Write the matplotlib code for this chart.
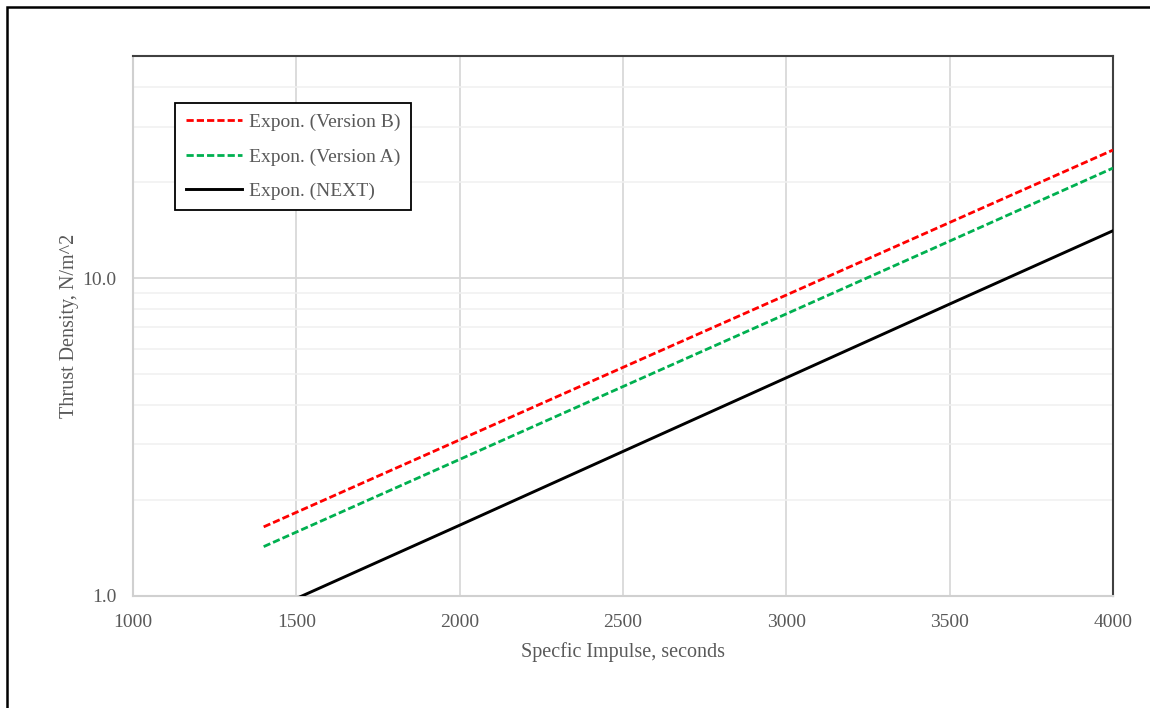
import matplotlib.pyplot as plt
from matplotlib.patches import Rectangle

plt.rcParams.update({
    'font.family': ['Liberation Serif', 'DejaVu Serif'],
})

# values (trendlines, log y)
ISP = [1400, 2000, 2500, 3000, 3500, 4000]
VERSION_B = [1.65, 3.10, 5.24, 8.85, 14.97, 25.3]
VERSION_A = [1.43, 2.69, 4.56, 7.72, 13.08, 22.2]
NEXT = [0.883, 1.67, 2.85, 4.86, 8.29, 14.1]

XTICKS = [1000, 1500, 2000, 2500, 3000, 3500, 4000]
YTICKS = [1, 10]
YTICK_LABELS = ['1.0', '10.0']

W, H = 1150, 708
TXT = '#595959'
FS = 14

fig = plt.figure(figsize=(W / 100, H / 100), dpi=100)
ax = fig.add_axes([133 / W, (H - 596) / H, 980 / W, 540 / H])

ax.set_yscale('log')
ax.set_xlim(1000, 4000)
ax.set_ylim(1, 50)

ax.plot(ISP, VERSION_B, color='#FF0000', lw=2.0, dashes=(2.6, 1.1),
        label='Expon. (Version B)', zorder=3)
ax.plot(ISP, VERSION_A, color='#00B050', lw=2.0, dashes=(2.6, 1.1),
        label='Expon. (Version A)', zorder=3)
ax.plot(ISP, NEXT, color='black', lw=2.1, label='Expon. (NEXT)', zorder=3)

ax.set_xticks(XTICKS)
ax.set_xticklabels([str(x) for x in XTICKS])
ax.set_yticks(YTICKS)
ax.set_yticklabels(YTICK_LABELS)
ax.set_yticks([v * d for d in (1, 10) for v in range(2, 10) if v * d < 50],
              minor=True)
ax.set_yticklabels([], minor=True)
ax.tick_params(which='both', length=0, labelsize=FS, colors=TXT)
ax.tick_params(axis='x', pad=13)
ax.tick_params(axis='y', pad=12)

ax.grid(True, which='major', color='#D9D9D9', lw=1.3)
ax.grid(True, which='minor', axis='y', color='#F0F0F0', lw=1.1)
ax.set_axisbelow(True)

for side in ('left', 'bottom'):
    ax.spines[side].set_color('#D0D0D0')
    ax.spines[side].set_linewidth(1.5)
for side in ('top', 'right'):
    ax.spines[side].set_color('#404040')
    ax.spines[side].set_linewidth(1.5)

ax.set_xlabel('Specfic Impulse, seconds', fontsize=FS + 0.5, color=TXT,
              labelpad=8)
ax.set_ylabel('Thrust Density, N/m^2', fontsize=FS + 0.5, color=TXT,
              labelpad=2)

leg = ax.legend(loc='upper left', bbox_to_anchor=(175 / W, 1 - 103 / H),
                bbox_transform=fig.transFigure, borderaxespad=0,
                fancybox=False, framealpha=1, fontsize=FS,
                handlelength=2.9, handletextpad=0.35, labelspacing=0.85,
                borderpad=0.55)
leg.get_frame().set_edgecolor('black')
leg.get_frame().set_linewidth(1.3)
for t in leg.get_texts():
    t.set_color(TXT)

# outer chart frame
fig.patches.append(Rectangle((7 / W, -0.1), 1.2, 1 - 7 / H + 0.1,
                             transform=fig.transFigure, fill=False,
                             ec='black', lw=1.8))

plt.savefig('out.png', dpi=100)
